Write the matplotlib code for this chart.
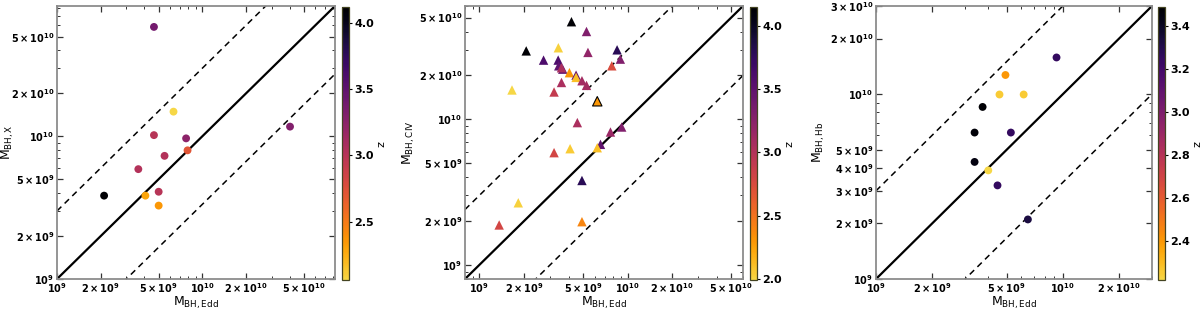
import matplotlib.pyplot as plt
import numpy as np
from matplotlib.colors import LinearSegmentedColormap
from matplotlib.ticker import FixedLocator, NullFormatter

plt.rcParams['font.family'] = 'DejaVu Sans'
plt.rcParams['mathtext.default'] = 'bf'

# panel 1: X-ray masses vs Eddington masses
edd_x = [4.65e9, 6.34e9, 4.65e9, 7.74e9, 7.92e9, 5.5e9, 3.63e9, 2.11e9, 4.06e9, 5.01e9, 5.01e9, 4.02e10]
mbh_x = [5.85e10, 1.49e10, 1.02e10, 9.68e9, 7.98e9, 7.3e9, 5.89e9, 3.84e9, 3.84e9, 4.09e9, 3.27e9, 1.17e10]
z_x = [3.38, 2.06, 3.00, 3.25, 2.72, 3.02, 3.02, 4.12, 2.30, 3.00, 2.35, 3.30]

# panel 2: CIV masses
edd_civ = [4.18e9, 5.28e9, 2.07e9, 3.41e9, 5.4e9, 8.49e9, 8.93e9, 2.71e9, 3.4e9, 3.43e9, 3.65e9,
           3.58e9, 4.05e9, 4.49e9, 4.49e9, 4.92e9, 5.28e9, 7.82e9, 3.58e9, 3.19e9, 1.66e9, 6.24e9,
           4.58e9, 9.12e9, 7.66e9, 6.56e9, 6.24e9, 4.09e9, 3.19e9, 4.92e9, 1.83e9, 1.36e9, 4.92e9]
mbh_civ = [4.68e10, 4.01e10, 2.95e10, 3.10e10, 2.88e10, 3.0e10, 2.59e10, 2.55e10, 2.55e10, 2.33e10, 2.21e10,
           2.26e10, 2.09e10, 2.01e10, 1.94e10, 1.84e10, 1.71e10, 2.33e10, 1.79e10, 1.54e10, 1.59e10, 1.33e10,
           9.49e9, 8.85e9, 8.18e9, 6.73e9, 6.38e9, 6.28e9, 5.9e9, 3.8e9, 2.67e9, 1.88e9, 1.98e9]
z_civ = [4.12, 3.30, 4.15, 2.02, 3.20, 3.80, 3.30, 3.60, 3.60, 3.50, 3.50,
         3.05, 2.30, 3.45, 2.10, 3.10, 3.10, 2.75, 3.05, 2.90, 1.99, 2.30,
         3.05, 3.30, 3.15, 3.50, 2.10, 2.05, 2.80, 3.80, 2.02, 2.80, 2.40]
edge_civ = ['none'] * 21 + ['black'] + ['none'] * 11

# panel 3: Hb masses
edd_hb = [9.25e9, 4.93e9, 4.58e9, 6.17e9, 3.72e9, 3.37e9, 5.27e9, 3.37e9, 3.99e9, 4.47e9, 6.5e9]
mbh_hb = [1.58e10, 1.27e10, 9.96e9, 9.96e9, 8.53e9, 6.2e9, 6.2e9, 4.3e9, 3.87e9, 3.21e9, 2.1e9]
z_hb = [3.25, 2.40, 2.25, 2.25, 3.49, 3.47, 3.25, 3.45, 2.22, 3.25, 3.33]

ticks_1 = [1e9, 2e9, 5e9, 1e10, 2e10, 5e10]
ticks_3x = [1e9, 2e9, 5e9, 1e10, 2e10]
ticks_3y = [1e9, 2e9, 3e9, 4e9, 5e9, 1e10, 2e10, 3e10]

inferno = plt.get_cmap('inferno')
cmap = LinearSegmentedColormap.from_list('inf_trunc', inferno(np.linspace(0.9, 0.0, 256)))


def sci_label(v):
    exp = int(np.floor(np.log10(v) + 1e-9))
    mant = int(round(v / 10 ** exp))
    if mant == 1:
        return r'$10^{%d}$' % exp
    return r'$%d\times10^{%d}$' % (mant, exp)


def minor_ticks(lo, hi, majors):
    out = []
    for e in range(8, 12):
        for m in range(1, 10):
            v = m * 10.0 ** e
            if lo <= v <= hi and not any(np.isclose(v, majors)):
                out.append(v)
    return out


panels = [
    dict(x=edd_x, y=mbh_x, z=z_x, marker='o', s=32, edge='none', lim=(1e9, 8.2e10),
         xt=ticks_1, yt=ticks_1, ylab=r'M$_{\mathrm{BH,X}}$', ylx=16,
         pos=[57, 335], cpos=[342, 349], cticks=[2.5, 3.0, 3.5, 4.0], fmt='%.1f'),
    dict(x=edd_civ, y=mbh_civ, z=z_civ, marker='^', s=46, edge=edge_civ, lim=(8e8, 6e10),
         xt=ticks_1, yt=ticks_1, ylab=r'M$_{\mathrm{BH,CIV}}$', ylx=417,
         pos=[465, 743], cpos=[750, 757], cticks=[2.0, 2.5, 3.0, 3.5, 4.0], fmt='%.1f'),
    dict(x=edd_hb, y=mbh_hb, z=z_hb, marker='o', s=32, edge='none', lim=(1e9, 3e10),
         xt=ticks_3x, yt=ticks_3y, ylab=r'M$_{\mathrm{BH,Hb}}$', ylx=827,
         pos=[876, 1152], cpos=[1158, 1165], cticks=[2.4, 2.6, 2.8, 3.0, 3.2, 3.4], fmt='%.1f'),
]

W, H = 1200, 311
fig = plt.figure(figsize=(12, 3.11), dpi=100)
top_px, bot_px = 6, 279

for p in panels:
    width_px = p['pos'][1] - p['pos'][0]
    ax = fig.add_axes([p['pos'][0] / W, 1 - bot_px / H, width_px / W, (bot_px - top_px) / H])
    cax = fig.add_axes([p['cpos'][0] / W, 1 - 280 / H, (p['cpos'][1] - p['cpos'][0]) / W, (280 - 7) / H])
    lo, hi = p['lim']
    line = np.array([lo, hi])
    ax.plot(line, line, color='black', lw=1.6, zorder=2)
    ax.plot(line, 3 * line, color='black', lw=1.1, ls=(0, (4, 3)), zorder=2)
    ax.plot(line, line / 3, color='black', lw=1.1, ls=(0, (4, 3)), zorder=2)
    sc = ax.scatter(p['x'], p['y'], c=p['z'], cmap=cmap, marker=p['marker'], s=p['s'],
                    edgecolors=p['edge'], linewidths=0.8, zorder=3)
    ax.set_xscale('log')
    ax.set_yscale('log')
    ax.set_xlim(lo, hi)
    ax.set_ylim(lo, hi)
    ax.xaxis.set_major_locator(FixedLocator(p['xt']))
    ax.yaxis.set_major_locator(FixedLocator(p['yt']))
    ax.set_xticklabels([sci_label(v) for v in p['xt']])
    ax.set_yticklabels([sci_label(v) for v in p['yt']])
    ax.xaxis.set_minor_locator(FixedLocator(minor_ticks(lo, hi, p['xt'])))
    ax.yaxis.set_minor_locator(FixedLocator(minor_ticks(lo, hi, p['yt'])))
    ax.xaxis.set_minor_formatter(NullFormatter())
    ax.yaxis.set_minor_formatter(NullFormatter())
    ax.tick_params(which='both', direction='in', top=True, right=True, labelsize=7, color='#333333')
    ax.tick_params(which='major', length=4, width=0.9)
    ax.tick_params(axis='x', which='major', pad=1.5)
    ax.tick_params(axis='y', which='major', pad=2)
    ax.tick_params(which='minor', length=2, width=0.7)
    for sp in ax.spines.values():
        sp.set_color('#8c8c8c')
        sp.set_linewidth(1.3)
    ax.set_xlabel(r'M$_{\mathrm{BH,Edd}}$', fontsize=9, labelpad=0)
    ax.set_ylabel(p['ylab'], fontsize=9)
    ax.yaxis.set_label_coords((p['ylx'] - p['pos'][0]) / width_px, 0.5)

    cb = fig.colorbar(sc, cax=cax)
    cb.set_ticks(p['cticks'])
    cb.set_ticklabels([p['fmt'] % t for t in p['cticks']])
    cb.ax.tick_params(labelsize=8, length=2, width=0.8, direction='out', pad=2)
    for lab in cb.ax.get_yticklabels():
        lab.set_fontweight('bold')
    cb.outline.set_edgecolor('#444422')
    cb.outline.set_linewidth(0.9)
    cb.set_label('z', rotation=270, fontsize=8, labelpad=7)

fig.savefig('out.png', dpi=100)
